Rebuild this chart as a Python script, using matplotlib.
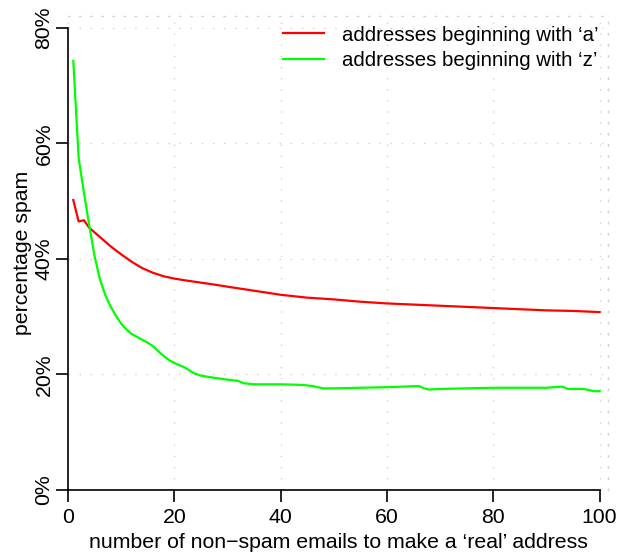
import matplotlib
matplotlib.use("Agg")
import matplotlib.pyplot as plt

plt.rcParams["font.family"] = ["Liberation Sans", "DejaVu Sans"]

# addresses beginning with 'a'
a_x = [1, 2, 3, 4, 5, 6, 7, 8, 10, 12, 14, 16, 18, 20, 22, 25, 28, 30, 35, 40,
       45, 50, 55, 60, 65, 70, 75, 80, 85, 90, 95, 100]
a_y = [50.2, 46.5, 46.7, 45.4, 44.6, 43.8, 43.0, 42.2, 40.8, 39.5, 38.4, 37.6,
       37.0, 36.6, 36.3, 35.9, 35.5, 35.2, 34.5, 33.8, 33.3, 33.0, 32.6, 32.3,
       32.1, 31.9, 31.7, 31.5, 31.3, 31.1, 31.0, 30.8]

# addresses beginning with 'z'
z_x = [1, 2, 3, 4, 5, 6, 7, 8, 9, 10, 11, 12, 13, 14, 15, 16, 17, 18, 19, 20,
       21, 22, 23, 24, 25, 27, 30, 32, 33, 35, 40, 44, 46, 48, 50, 55, 60, 66,
       67, 68, 70, 80, 90, 93, 94, 97, 98, 99, 100]
z_y = [74.3, 57.5, 51.5, 45.8, 40.5, 36.5, 33.8, 31.8, 30.2, 28.8, 27.8, 27.0,
       26.5, 26.0, 25.5, 24.9, 24.0, 23.2, 22.5, 22.0, 21.6, 21.2, 20.6, 20.1,
       19.8, 19.5, 19.1, 18.9, 18.5, 18.3, 18.3, 18.2, 18.0, 17.6, 17.6, 17.7,
       17.8, 18.0, 17.6, 17.4, 17.5, 17.7, 17.7, 17.9, 17.5, 17.5, 17.3, 17.1,
       17.1]

x_ticks = [0, 20, 40, 60, 80, 100]
y_ticks = [0, 20, 40, 60, 80]
y_labels = ["0%", "20%", "40%", "60%", "80%"]

fig = plt.figure(figsize=(6.18, 5.54), dpi=100)
ax = fig.add_axes([0.110, 0.1155, 0.874, 0.855])

grid_style = dict(color="#d3d3d3", linestyle=(0, (1, 7)), linewidth=1.0)
for t in x_ticks:
    ax.axvline(t, zorder=0, **grid_style)
for t in y_ticks:
    ax.axhline(t, zorder=0, **grid_style)

ax.plot(a_x, a_y, color="#ff0000", lw=1.6, label="addresses beginning with \u2018a\u2019")
ax.plot(z_x, z_y, color="#00ff00", lw=1.6, label="addresses beginning with \u2018z\u2019")

ax.set_xlim(0, 101.6)
ax.set_ylim(0, 82)
ax.set_xticks(x_ticks)
ax.set_yticks(y_ticks)
ax.set_yticklabels(y_labels, rotation=90, va="center")
ax.tick_params(direction="out", length=8.5, width=1.2, labelsize=15.3)
ax.tick_params(axis="x", pad=4.5)
ax.tick_params(axis="y", pad=2)

for side in ["top", "right"]:
    ax.spines[side].set_color("#d3d3d3")
    ax.spines[side].set_linestyle((0, (1, 7)))
    ax.spines[side].set_linewidth(1.0)
ax.spines["bottom"].set_bounds(0, 100)
ax.spines["left"].set_bounds(0, 80)
ax.spines["bottom"].set_linewidth(1.2)
ax.spines["left"].set_linewidth(1.2)

ax.set_xlabel("number of non\u2212spam emails to make a \u2018real\u2019 address", fontsize=15.3, labelpad=4)
ax.set_ylabel("percentage spam", fontsize=15.3)
ax.yaxis.set_label_coords(-0.066, 0.5)

ax.legend(loc="upper right", bbox_to_anchor=(1.0, 1.0), frameon=False,
          fontsize=14.7, handlelength=2.0, handletextpad=0.9, labelspacing=0.3,
          borderaxespad=0.05)

fig.savefig("out.png", dpi=100)
